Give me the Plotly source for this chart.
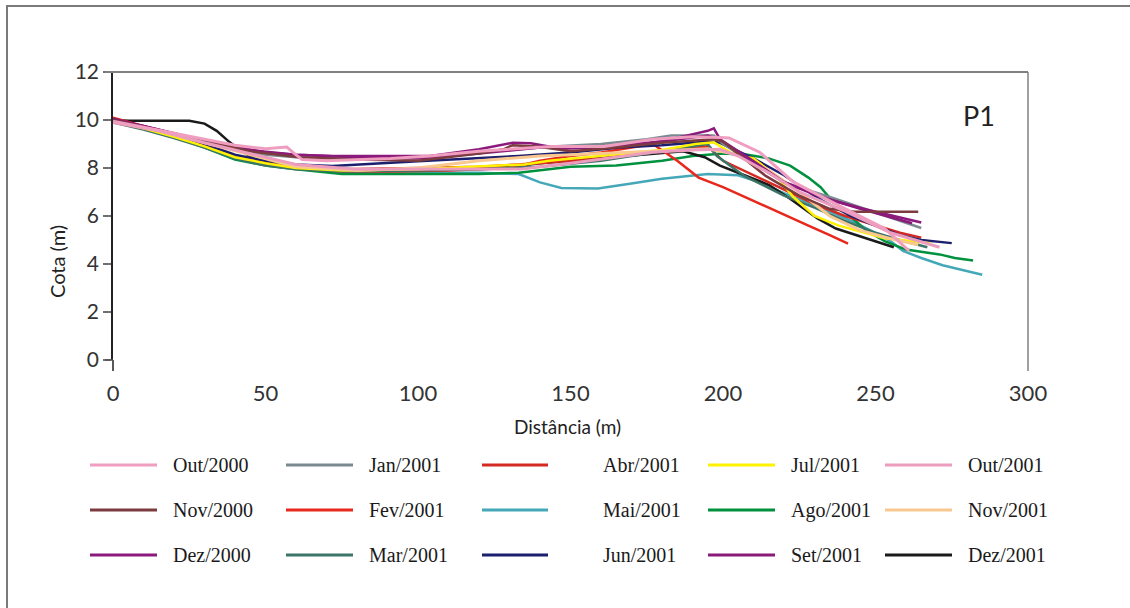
import plotly.graph_objects as go

# Beach profile P1: elevation (m) versus distance (m), one survey per month
labels = ["Out/2000", "Nov/2000", "Dez/2000", "Jan/2001", "Fev/2001",
          "Mar/2001", "Abr/2001", "Mai/2001", "Jun/2001", "Jul/2001",
          "Ago/2001", "Set/2001", "Out/2001", "Nov/2001", "Dez/2001"]

colors = ["#f09ec0", "#7b3b3f", "#8b1a7c", "#7a8a90", "#e8281c",
          "#3c7468", "#d42a22", "#45a8b8", "#1c1f6e", "#fff200",
          "#00913f", "#8a1a78", "#ec9cbc", "#f8c890", "#1a1a1a"]

out2000_d = [0, 10, 20, 30, 40, 50, 55, 57, 59, 62, 70, 80, 91, 104, 120, 144, 161, 177, 190, 199, 202, 212, 223, 238, 253, 261]
out2000_v = [9.95, 9.7, 9.45, 9.2, 8.95, 8.8, 8.85, 8.87, 8.65, 8.35, 8.3, 8.35, 8.4, 8.5, 8.7, 8.9, 8.9, 9.2, 9.3, 9.27, 9.25, 8.66, 7.42, 6.43, 5.48, 4.55]

nov2000_d = [0, 10, 20, 32, 45, 61, 80, 100, 120, 128, 131, 139, 150, 165, 180, 197, 200, 214, 225, 235, 243, 264]
nov2000_v = [10.0, 9.7, 9.4, 9.07, 8.7, 8.45, 8.35, 8.3, 8.6, 8.78, 8.95, 8.9, 8.7, 8.85, 9.05, 9.2, 9.1, 7.67, 6.85, 6.3, 6.18, 6.18]

dez2000_d = [0, 10, 20, 30, 40, 50, 60, 72, 90, 104, 120, 131, 137, 147, 160, 175, 188, 195, 197, 199, 209, 220, 234, 246, 256, 265]
dez2000_v = [10.0, 9.75, 9.45, 9.15, 8.9, 8.65, 8.55, 8.5, 8.5, 8.5, 8.78, 9.05, 9.03, 8.8, 8.85, 9.0, 9.35, 9.55, 9.65, 9.2, 8.37, 7.42, 6.72, 6.3, 6.0, 5.73]

jan2001_d = [0, 10, 20, 30, 40, 50, 60, 75, 100, 112, 130, 144, 160, 175, 183, 197, 200, 210, 220, 236, 253, 265]
jan2001_v = [9.95, 9.7, 9.4, 9.1, 8.8, 8.55, 8.45, 8.4, 8.45, 8.58, 8.75, 8.9, 9.0, 9.2, 9.35, 9.35, 9.0, 8.2, 7.4, 6.75, 6.0, 5.5]

fev2001_d = [0, 10, 20, 30, 40, 50, 60, 75, 90, 110, 130, 140, 150, 160, 170, 177, 185, 192, 200, 212, 220, 228, 235, 241]
fev2001_v = [10.1, 9.75, 9.4, 9.0, 8.5, 8.2, 8.0, 7.85, 7.85, 7.9, 8.0, 8.3, 8.5, 8.65, 8.85, 9.0, 8.3, 7.6, 7.2, 6.5, 6.05, 5.6, 5.2, 4.85]

mar2001_d = [0, 10, 20, 30, 40, 50, 60, 75, 100, 120, 140, 160, 180, 195, 198, 207, 220, 230, 240, 250, 258, 267]
mar2001_v = [9.9, 9.6, 9.25, 8.85, 8.4, 8.1, 7.95, 7.85, 7.9, 7.95, 8.05, 8.3, 8.7, 9.0, 8.5, 7.67, 6.85, 6.35, 5.8, 5.3, 5.0, 4.7]

abr2001_d = [0, 10, 20, 30, 40, 50, 60, 75, 100, 120, 140, 160, 180, 195, 200, 210, 220, 230, 240, 250, 258, 265]
abr2001_v = [10.0, 9.7, 9.35, 8.95, 8.5, 8.2, 8.0, 7.95, 8.0, 8.05, 8.2, 8.4, 8.7, 8.9, 8.3, 7.7, 7.1, 6.5, 6.0, 5.6, 5.3, 5.1]

mai2001_d = [0, 10, 20, 30, 40, 50, 60, 75, 100, 120, 133, 140, 147, 159, 170, 180, 195, 205, 212, 220, 233, 242, 250, 255, 259, 265, 272, 285]
mai2001_v = [9.95, 9.65, 9.3, 8.9, 8.45, 8.15, 8.0, 7.8, 7.8, 7.8, 7.75, 7.4, 7.17, 7.15, 7.35, 7.55, 7.75, 7.7, 7.4, 6.95, 6.3, 5.8, 5.3, 4.95, 4.55, 4.25, 3.95, 3.55]

jun2001_d = [0, 10, 20, 30, 40, 50, 60, 72, 100, 133, 150, 166, 180, 195, 199, 210, 220, 231, 242, 258, 265, 275]
jun2001_v = [10.0, 9.7, 9.35, 9.0, 8.55, 8.3, 8.15, 8.08, 8.28, 8.5, 8.65, 8.85, 8.95, 9.1, 9.05, 8.4, 7.7, 6.75, 6.0, 5.2, 5.0, 4.87]

jul2001_d = [0, 10, 20, 30, 40, 50, 60, 75, 100, 120, 135, 143, 160, 180, 191, 197, 203, 210, 218, 223, 230, 238, 253, 268]
jul2001_v = [9.95, 9.65, 9.3, 8.9, 8.45, 8.2, 8.0, 7.9, 7.95, 8.05, 8.15, 8.3, 8.5, 8.75, 9.0, 9.07, 8.6, 8.4, 7.6, 6.8, 6.0, 5.6, 5.07, 4.87]

ago2001_d = [0, 10, 20, 30, 40, 50, 60, 75, 100, 120, 133, 150, 165, 180, 190, 200, 208, 215, 222, 228, 232, 235, 242, 247, 253, 260, 271, 276, 282]
ago2001_v = [9.95, 9.65, 9.3, 8.85, 8.35, 8.1, 7.95, 7.75, 7.75, 7.75, 7.8, 8.05, 8.1, 8.3, 8.5, 8.6, 8.55, 8.4, 8.1, 7.6, 7.2, 6.75, 5.95, 5.4, 4.95, 4.6, 4.4, 4.25, 4.15]

set2001_d = [0, 15, 30, 45, 60, 80, 100, 120, 140, 160, 180, 195, 200, 210, 220, 232, 245, 255, 262]
set2001_v = [10.05, 9.6, 9.1, 8.75, 8.55, 8.45, 8.4, 8.6, 8.85, 8.9, 9.1, 9.35, 9.1, 8.2, 7.4, 6.8, 6.3, 5.95, 5.7]

out2001_d = [0, 15, 30, 45, 60, 80, 100, 120, 134, 150, 165, 177, 190, 199, 205, 215, 225, 240, 255, 271]
out2001_v = [9.9, 9.55, 9.05, 8.6, 8.15, 7.95, 7.95, 7.95, 7.96, 8.2, 8.45, 8.66, 8.75, 8.78, 8.5, 7.8, 7.0, 6.2, 5.3, 4.7]

nov2001_d = [0, 15, 30, 45, 60, 80, 100, 120, 140, 160, 180, 195, 205, 215, 225, 235, 245, 255, 264]
nov2001_v = [10.0, 9.55, 9.05, 8.55, 8.05, 7.9, 8.0, 8.3, 8.5, 8.6, 8.7, 8.8, 8.55, 7.9, 7.0, 6.0, 5.4, 5.05, 4.8]

dez2001_d = [0, 5, 15, 25, 30, 34, 38, 42, 47, 55, 65, 75, 90, 110, 130, 140, 150, 165, 180, 187, 194, 199, 206, 215, 222, 231, 237, 244, 256]
dez2001_v = [10.0, 9.97, 9.97, 9.97, 9.85, 9.55, 9.1, 8.7, 8.35, 8.1, 7.95, 7.9, 7.9, 7.95, 8.05, 8.2, 8.3, 8.45, 8.6, 8.7, 8.45, 8.1, 7.75, 7.3, 6.72, 5.9, 5.48, 5.2, 4.7]

distances = [out2000_d, nov2000_d, dez2000_d, jan2001_d, fev2001_d, mar2001_d,
             abr2001_d, mai2001_d, jun2001_d, jul2001_d, ago2001_d, set2001_d,
             out2001_d, nov2001_d, dez2001_d]
elevations = [out2000_v, nov2000_v, dez2000_v, jan2001_v, fev2001_v, mar2001_v,
              abr2001_v, mai2001_v, jun2001_v, jul2001_v, ago2001_v, set2001_v,
              out2001_v, nov2001_v, dez2001_v]

x_ticks = [0, 50, 100, 150, 200, 250, 300]
y_ticks = [0, 2, 4, 6, 8, 10, 12]

# Plot-area geometry in page pixels
W, H = 1130, 608
L, R, T, B = 113, 1028, 72, 360


def px(x):
    return (x - L) / (R - L)


def py(y):
    return (B - y) / (B - T)


fig = go.Figure()

draw_order = [7, 10, 14, 4, 6, 5, 8, 9, 13, 3, 11, 2, 1, 12, 0]
for i in draw_order:
    fig.add_trace(go.Scatter(
        x=distances[i], y=elevations[i], mode="lines", name=labels[i],
        line=dict(color=colors[i], width=3 if i in (0, 12, 13) else 2.5),
        showlegend=False, hoverinfo="x+y+name"))

shapes = []
# outer frame (left and top edges)
shapes.append(dict(type="path", xref="paper", yref="paper",
                   path=f"M {px(7)} {py(608)} L {px(7)} {py(6)} L {px(1130)} {py(6)}",
                   line=dict(color="#7a7a7a", width=2)))
# top and right borders of the plot box
shapes.append(dict(type="line", xref="paper", yref="paper",
                   x0=px(105), x1=1, y0=1, y1=1, line=dict(color="#808080", width=2)))
shapes.append(dict(type="line", xref="paper", yref="paper",
                   x0=1, x1=1, y0=py(371), y1=1, line=dict(color="#808080", width=1.5)))
# tick stubs at both ends of the distance axis
shapes.append(dict(type="line", xref="paper", yref="paper",
                   x0=0, x1=0, y0=py(371), y1=0, line=dict(color="#222222", width=1.5)))
shapes.append(dict(type="line", xref="paper", yref="paper",
                   x0=px(105), x1=0, y0=0, y1=0, line=dict(color="#555555", width=1.5)))

annotations = []
# legend: 3 rows x 5 columns, filled column by column
line_x = [(90, 157), (286, 353), (482, 548), (708, 775), (885, 952)]
text_x = [171, 367, 601, 789, 966]
row_y = [465, 510, 555]
for k, lab in enumerate(labels):
    c, r = divmod(k, 3)
    shapes.append(dict(type="line", xref="paper", yref="paper",
                       x0=px(line_x[c][0]), x1=px(line_x[c][1]),
                       y0=py(row_y[r]), y1=py(row_y[r]),
                       line=dict(color=colors[k], width=3)))
    annotations.append(dict(xref="paper", yref="paper", x=px(text_x[c]), y=py(row_y[r]),
                            text=lab, showarrow=False, xanchor="left", yanchor="middle",
                            font=dict(family="Liberation Serif", size=20, color="#1a1a1a")))

annotations.append(dict(xref="paper", yref="paper", x=px(979), y=py(115), text="P1",
                        showarrow=False, xanchor="center", yanchor="middle",
                        font=dict(family="Lato", size=27, color="#222222")))
annotations.append(dict(xref="paper", yref="paper", x=px(567), y=py(426), text="Distância (m)",
                        showarrow=False, xanchor="center", yanchor="middle",
                        font=dict(family="Lato", size=19, color="#222222")))
annotations.append(dict(xref="paper", yref="paper", x=px(57), y=py(262), text="Cota (m)",
                        showarrow=False, xanchor="center", yanchor="middle", textangle=-90,
                        font=dict(family="Lato", size=20, color="#222222")))

fig.update_layout(
    width=W, height=H,
    margin=dict(l=L, r=W - R, t=T, b=H - B, pad=0),
    paper_bgcolor="white", plot_bgcolor="white",
    shapes=shapes, annotations=annotations,
    xaxis=dict(range=[0, 300], tickvals=x_ticks, ticks="outside", ticklen=14,
               tickcolor="rgba(0,0,0,0)", showgrid=False, zeroline=False,
               showline=False, tickfont=dict(family="Lato", size=22, color="#333333")),
    yaxis=dict(range=[0, 12], tickvals=y_ticks, ticks="outside", ticklen=8,
               tickcolor="#707070", tickwidth=1.5, showgrid=False, zeroline=False,
               showline=True, linecolor="#222222", linewidth=1.5,
               tickfont=dict(family="Lato", size=21, color="#333333")),
)

fig.write_html("out.html")
